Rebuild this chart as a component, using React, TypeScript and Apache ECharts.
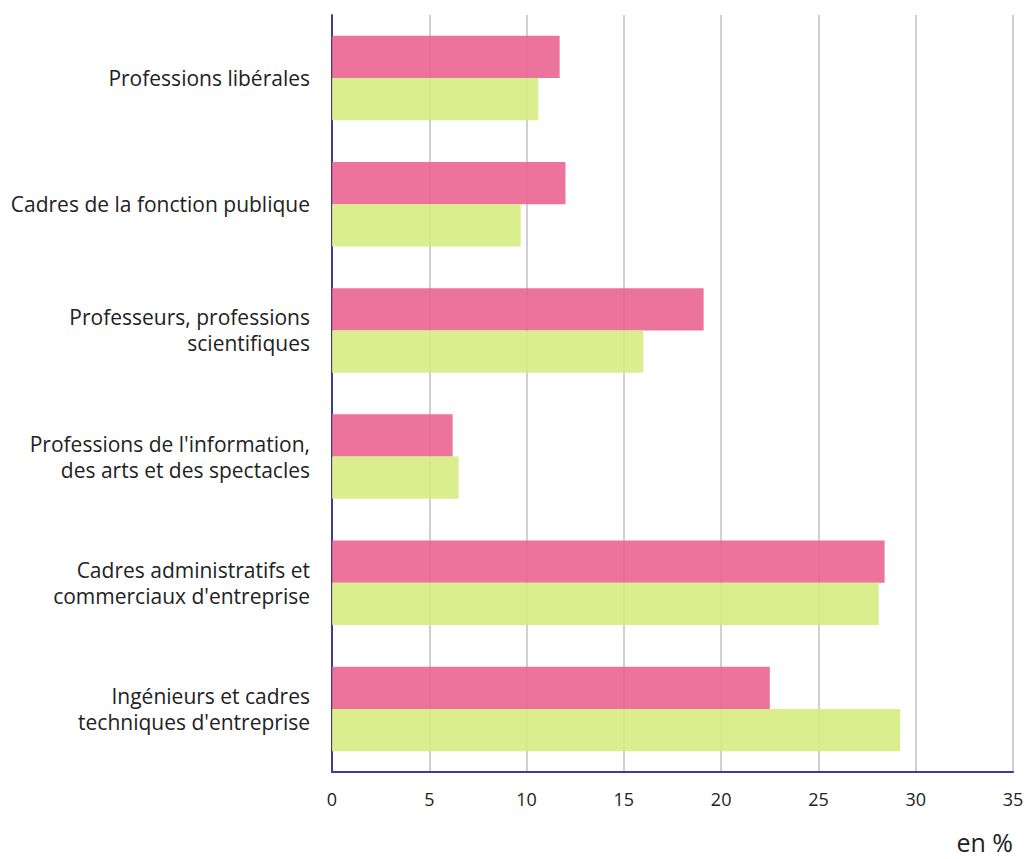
import React, { useEffect, useRef } from "react";
import * as echarts from "echarts";

const categories = [
  "Professions libérales",
  "Cadres de la fonction publique",
  "Professeurs, professions\nscientifiques",
  "Professions de l'information,\ndes arts et des spectacles",
  "Cadres administratifs et\ncommerciaux d'entreprise",
  "Ingénieurs et cadres\ntechniques d'entreprise",
];
const seriesPink = [11.7, 12.0, 19.1, 6.2, 28.4, 22.5];
const seriesGreen = [10.6, 9.7, 16.0, 6.5, 28.1, 29.2];

export default function App() {
  const ref = useRef<HTMLDivElement>(null);
  useEffect(() => {
    if (!ref.current) return;
    const chart = echarts.init(ref.current, null, { renderer: "svg" });
    const font = "'Open Sans', 'Noto Sans', sans-serif";
    chart.setOption({
      animation: false,
      grid: { left: 332, right: 15, top: 15, bottom: 87, containLabel: false },
      xAxis: {
        type: "value",
        min: 0,
        max: 35,
        interval: 5,
        axisLine: { show: true, lineStyle: { color: "#3b3ba6", width: 2 } },
        axisTick: { show: false },
        axisLabel: { color: "#222", fontSize: 18, fontFamily: font, margin: 18 },
        splitLine: { show: true, lineStyle: { color: "#d0d0d0", width: 2 } },
        name: "en %",
        nameLocation: "end",
        nameGap: 0,
        nameTextStyle: {
          color: "#222",
          fontSize: 25,
          fontFamily: font,
          align: "right",
          verticalAlign: "top",
          padding: [57, 0, 0, 0],
        },
      },
      yAxis: {
        type: "category",
        data: categories,
        inverse: true,
        axisLine: { show: true, lineStyle: { color: "#3b3ba6", width: 2 } },
        axisTick: { show: false },
        axisLabel: {
          color: "#222",
          fontSize: 21,
          fontFamily: font,
          margin: 22,
          lineHeight: 26,
          align: "right",
        },
        splitLine: { show: false },
      },
      series: [
        {
          type: "bar",
          data: seriesPink,
          barGap: "0%",
          barCategoryGap: "33%",
          itemStyle: { color: "#e8608e", opacity: 0.88 },
        },
        {
          type: "bar",
          data: seriesGreen,
          itemStyle: { color: "#d6ec7e", opacity: 0.88 },
        },
      ],
    });
    return () => chart.dispose();
  }, []);
  return (
    <div
      ref={ref}
      style={{ position: "absolute", left: 0, top: 0, width: 1028, height: 859 }}
    />
  );
}
